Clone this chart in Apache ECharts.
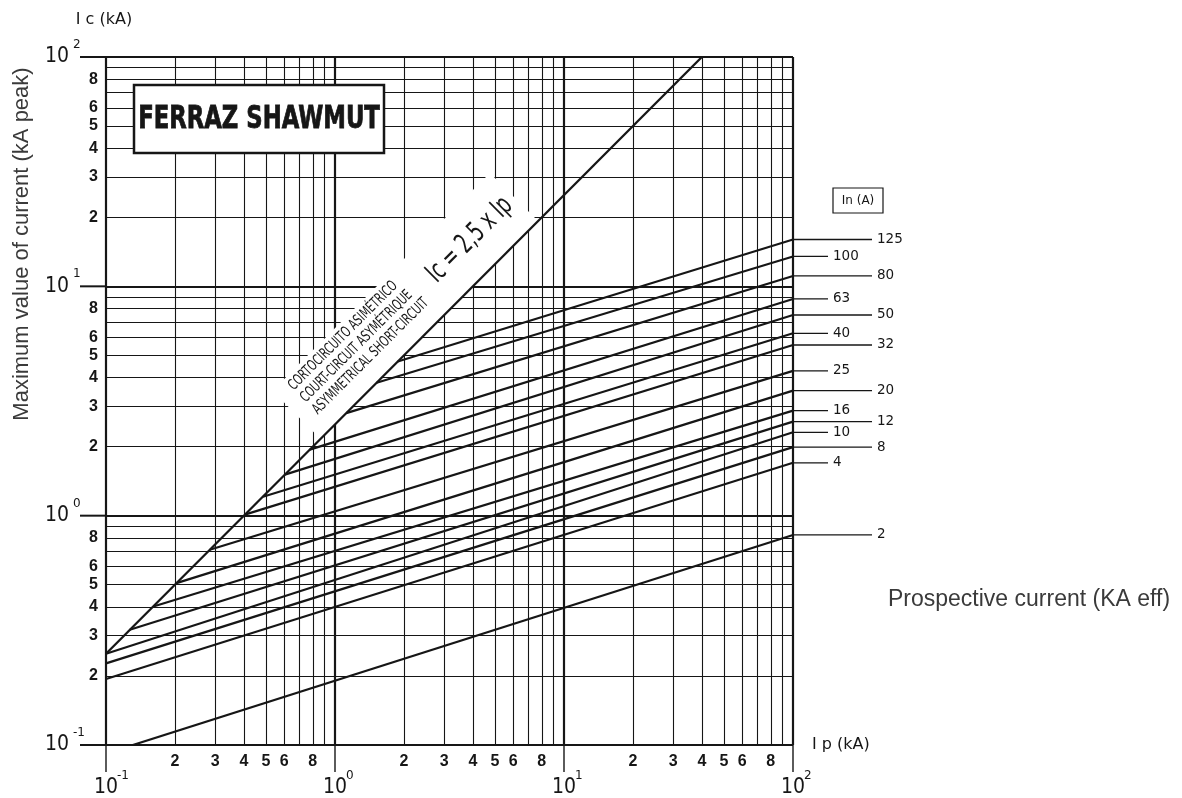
<!DOCTYPE html>
<html><head><meta charset="utf-8">
<script src="https://cdn.jsdelivr.net/npm/echarts@6/dist/echarts.min.js"></script>
<style>html,body{margin:0;padding:0;background:#fff}#c{width:1182px;height:798px}</style>
</head><body><div id="c"></div>
<script>
// ---- data ----
const ratings = ['2','4','8','10','12','16','20','25','32','40','50','63','80','100','125'];
const startIp = [0.131,0.1,0.1,0.1,0.127,0.161,0.203,0.284,0.404,0.485,0.604,0.776,1.12,1.52,1.88];
const startIc = [0.1,0.194,0.227,0.25,0.318,0.402,0.508,0.71,1.01,1.21,1.51,1.94,2.80,3.80,4.70];
const endIp = 100;
const endIc = [0.824,1.70,1.99,2.31,2.57,2.87,3.51,4.28,5.55,6.24,7.50,8.81,11.1,13.5,16.0];
const diagonalIp = [0.1, 40];
const diagonalIc = [0.25, 100];
const decadeTicks = [0.1, 1, 10, 100];
const decadeExp = ['-1','0','1','2'];
const minorGrid = [0.2,0.3,0.4,0.5,0.6,0.7,0.8,0.9,2,3,4,5,6,7,8,9,20,30,40,50,60,70,80,90];
const minorLabelValues = [0.2,0.3,0.4,0.5,0.6,0.8,2,3,4,5,6,8,20,30,40,50,60,80];
const minorLabelText = ['2','3','4','5','6','8','2','3','4','5','6','8','2','3','4','5','6','8'];
const longLeaders = ['2','8','12','20','32','50','80','125'];

const INK = '#161616';
const COND = '"DejaVu Sans Condensed","Liberation Sans Narrow","DejaVu Sans",sans-serif';
const ROUND = '"DejaVu Sans","Liberation Sans",sans-serif';
const HELV = '"Liberation Sans","Roboto",Arial,sans-serif';

const chart = echarts.init(document.getElementById('c'), null, {renderer:'canvas'});

const gridLines = [];
minorGrid.forEach(v => {
  gridLines.push({xAxis: v, lineStyle:{width:1.1}});
  gridLines.push({yAxis: v, lineStyle:{width:1.1}});
});
decadeTicks.forEach(v => {
  gridLines.push({xAxis: v, lineStyle:{width:2.2}});
  gridLines.push({yAxis: v, lineStyle:{width:2.2}});
});

const series = [{
  type:'line', name:'grid', data:[[0.1,0.1]], symbol:'none', showSymbol:false, z:1, silent:true,
  lineStyle:{opacity:0}, animation:false,
  markLine:{z:1, silent:true, symbol:['none','none'], animation:false, label:{show:false},
    lineStyle:{color:INK, type:'solid', width:1}, emphasis:{disabled:true}, data:gridLines}
}];
ratings.forEach((r,i) => {
  series.push({type:'line', name:r+' A', data:[[startIp[i],startIc[i]],[endIp,endIc[i]]],
    symbol:'none', showSymbol:false, silent:true, animation:false, z:3,
    lineStyle:{color:INK, width:2.2}});
});
series.push({type:'line', name:'Ic = 2,5 x Ip', data:diagonalIp.map((x,i)=>[x,diagonalIc[i]]),
  symbol:'none', showSymbol:false, silent:true, animation:false, z:3,
  lineStyle:{color:INK, width:2.3}});

const logAxis = {type:'log', logBase:10, min:0.1, max:100,
  axisLine:{show:false}, axisTick:{show:false}, axisLabel:{show:false}, splitLine:{show:false}};

chart.setOption({
  backgroundColor:'#fff',
  animation:false,
  grid:{left:106, right:389, top:57, bottom:53, containLabel:false},
  xAxis: Object.assign({}, logAxis),
  yAxis: Object.assign({}, logAxis),
  series
});

const toPx = p => chart.convertToPixel({gridIndex:0}, p);
const G = [];
const [x0, yB] = toPx([0.1, 0.1]);

// white band behind the diagonal annotations
const P0 = toPx([diagonalIp[0], diagonalIc[0]]);
const P1 = toPx([diagonalIp[1], diagonalIc[1]]);
const lerp = t => [P0[0]+(P1[0]-P0[0])*t, P0[1]+(P1[1]-P0[1])*t];
const A = lerp(0.36), B = lerp(0.725), off = 68/Math.SQRT2;
G.push({type:'polygon', silent:true, z:2,
  shape:{points:[A, B, [B[0]-off, B[1]-off], [A[0]-off, A[1]-off]]}, style:{fill:'#fff'}});

// tick labels
minorLabelValues.forEach((v,i) => {
  const px = toPx([v, 0.1])[0];
  G.push({type:'text', x:px, y:yB+17, z:6, silent:true,
    style:{text:minorLabelText[i], align:'center', verticalAlign:'middle', fontSize:16, fontWeight:'bold', fontFamily:HELV, fill:INK}});
  const py = toPx([0.1, v])[1];
  G.push({type:'text', x:x0-8, y:py, z:6, silent:true,
    style:{text:minorLabelText[i], align:'right', verticalAlign:'middle', fontSize:16, fontWeight:'bold', fontFamily:HELV, fill:INK}});
});
decadeTicks.forEach((v,i) => {
  const px = toPx([v, 0.1])[0];
  const py = toPx([0.1, v])[1];
  G.push({type:'line', silent:true, z:6, shape:{x1:px, y1:yB, x2:px, y2:yB+27}, style:{stroke:INK, lineWidth:1.4}});
  G.push({type:'line', silent:true, z:6, shape:{x1:x0-26, y1:py, x2:x0, y2:py}, style:{stroke:INK, lineWidth:2}});
  G.push({type:'text', x:px, y:yB+43, z:6, silent:true,
    style:{text:'10', align:'center', verticalAlign:'middle', fontSize:21, fontFamily:COND, fill:INK}});
  G.push({type:'text', x:px+11, y:yB+31, z:6, silent:true,
    style:{text:decadeExp[i], align:'left', verticalAlign:'middle', fontSize:12, fontFamily:ROUND, fill:INK}});
  G.push({type:'text', x:x0-37, y:py, z:6, silent:true,
    style:{text:'10', align:'right', verticalAlign:'middle', fontSize:21, fontFamily:COND, fill:INK}});
  G.push({type:'text', x:x0-33, y:py-12, z:6, silent:true,
    style:{text:decadeExp[i], align:'left', verticalAlign:'middle', fontSize:12, fontFamily:ROUND, fill:INK}});
});

// leaders and rating labels
ratings.forEach((r,i) => {
  const [ex, ey] = toPx([endIp, endIc[i]]);
  const len = longLeaders.includes(r) ? 79 : 35;
  G.push({type:'line', silent:true, z:6, shape:{x1:ex, y1:ey, x2:ex+len, y2:ey}, style:{stroke:INK, lineWidth:1.3}});
  G.push({type:'text', x:ex+len+5, y:ey, z:6, silent:true,
    style:{text:r, align:'left', verticalAlign:'middle', fontSize:13.5, fontFamily:ROUND, fill:INK}});
});

// In (A) box
G.push({type:'rect', silent:true, z:6, shape:{x:833, y:188, width:50, height:25}, style:{fill:'#fff', stroke:INK, lineWidth:1.2}});
G.push({type:'text', x:858, y:200.5, z:7, silent:true,
  style:{text:'In (A)', align:'center', verticalAlign:'middle', fontSize:12, fontFamily:ROUND, fill:INK}});

// brand box
G.push({type:'rect', silent:true, z:6, shape:{x:134, y:85, width:250, height:68}, style:{fill:'#fff', stroke:INK, lineWidth:2.5}});
G.push({type:'text', x:259, y:120, z:7, silent:true, scaleX:0.79,
  style:{text:'FERRAZ SHAWMUT', align:'center', verticalAlign:'middle', fontSize:32, fontWeight:'bold', fontFamily:COND, fill:INK,
    stroke:INK, lineWidth:0.8}});

// diagonal annotations
G.push({type:'text', x:303, y:400, rotation:Math.PI/4, z:7, silent:true, scaleX:0.74,
  style:{text:'CORTOCIRCUITO ASIMÉTRICO\nCOURT-CIRCUIT ASYMÉTRIQUE\nASYMMETRICAL SHORT-CIRCUIT', align:'left', verticalAlign:'middle',
    fontSize:15, lineHeight:17, fontFamily:COND, fill:INK}});
G.push({type:'text', x:470, y:240, rotation:Math.PI/4, z:7, silent:true, scaleX:0.71,
  style:{text:'Ic = 2,5 x Ip', align:'center', verticalAlign:'middle', fontSize:28, fontFamily:COND, fill:INK}});

// titles
G.push({type:'text', x:104, y:20, z:7, silent:true,
  style:{text:'I c (kA)', align:'center', verticalAlign:'middle', fontSize:16, fontFamily:ROUND, fill:INK}});
G.push({type:'text', x:812, y:yB, z:7, silent:true,
  style:{text:'I p (kA)', align:'left', verticalAlign:'middle', fontSize:16, fontFamily:ROUND, fill:INK}});
G.push({type:'text', x:22, y:244, rotation:Math.PI/2, z:7, silent:true,
  style:{text:'Maximum value of current (kA peak)', align:'center', verticalAlign:'middle', fontSize:22, fontFamily:HELV, fill:'#3a3a3a'}});
G.push({type:'text', x:888, y:600, z:7, silent:true,
  style:{text:'Prospective current (KA eff)', align:'left', verticalAlign:'middle', fontSize:23, fontFamily:HELV, fill:'#3a3a3a'}});

chart.setOption({graphic:{elements:G}});
</script></body></html>
